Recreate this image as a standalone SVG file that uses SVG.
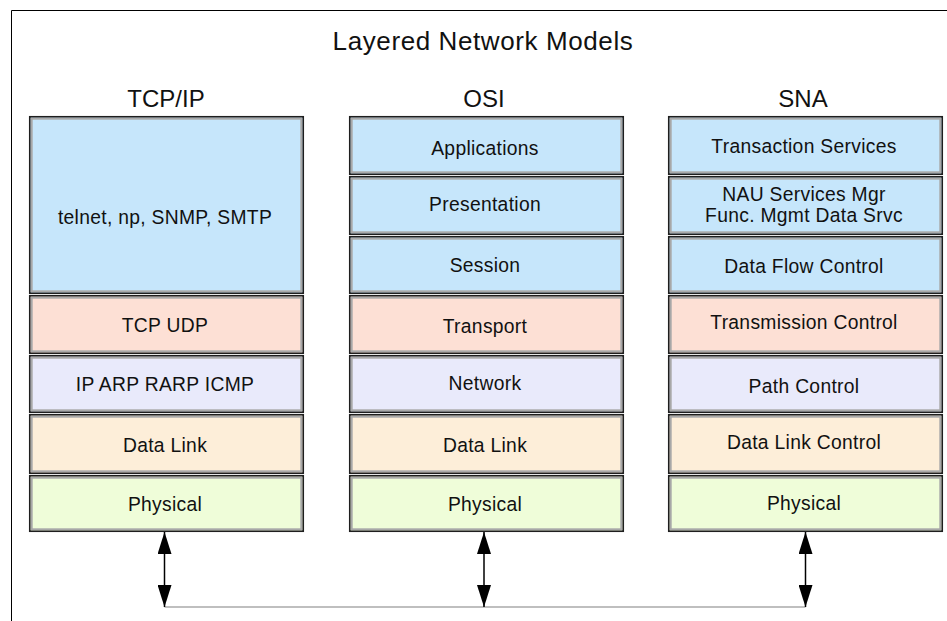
<svg xmlns="http://www.w3.org/2000/svg" width="947" height="621" viewBox="0 0 947 621">
<defs>
<style>
text{font-family:"Liberation Sans",Arial,sans-serif;fill:#111;text-anchor:middle}
.title{font-size:26px;letter-spacing:0.6px}
.hdr{font-size:24px}
.lbl{font-size:19.3px;letter-spacing:0.3px}
.o{stroke:#1e1e1e;stroke-width:1.7}
.i{fill:none;stroke:#a8a8a8;stroke-width:2}
.app{fill:#c6e6fb}
.trn{fill:#fde0d5}
.net{fill:#e9eafb}
.dl{fill:#fdeed9}
.phy{fill:#effdd9}
.v{stroke:#000;stroke-width:1.5;fill:none;marker-start:url(#ah);marker-end:url(#ah)}
.h{stroke:#808080;stroke-width:1.2;fill:none}
</style>
<marker id="ah" viewBox="0 0 22 14" refX="22" refY="7" markerWidth="22" markerHeight="14" markerUnits="userSpaceOnUse" orient="auto-start-reverse">
<path d="M0,0 L22,7 L0,14 z" fill="#000"/>
</marker>
</defs>
<rect width="947" height="621" fill="#fff"/>
<path d="M11.5,621 V10.5 H947" fill="none" stroke="#000" stroke-width="1"/>
<text class="title" x="483" y="49.5">Layered Network Models</text>
<text class="hdr" x="166" y="107">TCP/IP</text>
<text class="hdr" x="484" y="107">OSI</text>
<text class="hdr" x="803" y="107">SNA</text>

<g id="tcp-app">
<rect class="o app" x="29.8" y="116.8" width="273.4" height="176.4"/>
<rect class="i" x="31.7" y="118.7" width="269.6" height="172.6"/>
<text class="lbl" x="165" y="224">telnet, np, SNMP, SMTP</text>
</g>
<g id="tcp-transport">
<rect class="o trn" x="29.8" y="295.8" width="273.4" height="57.4"/>
<rect class="i" x="31.7" y="297.7" width="269.6" height="53.6"/>
<text class="lbl" x="165" y="332">TCP UDP</text>
</g>
<g id="tcp-network">
<rect class="o net" x="29.8" y="355.8" width="273.4" height="56.4"/>
<rect class="i" x="31.7" y="357.7" width="269.6" height="52.6"/>
<text class="lbl" x="165" y="391">IP ARP RARP ICMP</text>
</g>
<g id="tcp-datalink">
<rect class="o dl" x="29.8" y="414.8" width="273.4" height="58.4"/>
<rect class="i" x="31.7" y="416.7" width="269.6" height="54.6"/>
<text class="lbl" x="165" y="451.5">Data Link</text>
</g>
<g id="tcp-physical">
<rect class="o phy" x="29.8" y="475.8" width="273.4" height="55.4"/>
<rect class="i" x="31.7" y="477.7" width="269.6" height="51.6"/>
<text class="lbl" x="165" y="510.5">Physical</text>
</g>

<g id="osi-applications">
<rect class="o app" x="349.8" y="116.8" width="273.4" height="57.4"/>
<rect class="i" x="351.7" y="118.7" width="269.6" height="53.6"/>
<text class="lbl" x="485" y="155">Applications</text>
</g>
<g id="osi-presentation">
<rect class="o app" x="349.8" y="176.8" width="273.4" height="57.4"/>
<rect class="i" x="351.7" y="178.7" width="269.6" height="53.6"/>
<text class="lbl" x="485" y="211">Presentation</text>
</g>
<g id="osi-session">
<rect class="o app" x="349.8" y="236.8" width="273.4" height="56.4"/>
<rect class="i" x="351.7" y="238.7" width="269.6" height="52.6"/>
<text class="lbl" x="485" y="271.5">Session</text>
</g>
<g id="osi-transport">
<rect class="o trn" x="349.8" y="295.8" width="273.4" height="57.4"/>
<rect class="i" x="351.7" y="297.7" width="269.6" height="53.6"/>
<text class="lbl" x="485" y="333">Transport</text>
</g>
<g id="osi-network">
<rect class="o net" x="349.8" y="355.8" width="273.4" height="56.4"/>
<rect class="i" x="351.7" y="357.7" width="269.6" height="52.6"/>
<text class="lbl" x="485" y="390">Network</text>
</g>
<g id="osi-datalink">
<rect class="o dl" x="349.8" y="414.8" width="273.4" height="58.4"/>
<rect class="i" x="351.7" y="416.7" width="269.6" height="54.6"/>
<text class="lbl" x="485" y="451.5">Data Link</text>
</g>
<g id="osi-physical">
<rect class="o phy" x="349.8" y="475.8" width="273.4" height="55.4"/>
<rect class="i" x="351.7" y="477.7" width="269.6" height="51.6"/>
<text class="lbl" x="485" y="510.5">Physical</text>
</g>

<g id="sna-transaction">
<rect class="o app" x="668.8" y="116.8" width="273.4" height="57.4"/>
<rect class="i" x="670.7" y="118.7" width="269.6" height="53.6"/>
<text class="lbl" x="804" y="153">Transaction Services</text>
</g>
<g id="sna-nau">
<rect class="o app" x="668.8" y="176.8" width="273.4" height="57.4"/>
<rect class="i" x="670.7" y="178.7" width="269.6" height="53.6"/>
<text class="lbl" x="804" y="201">NAU Services Mgr</text>
<text class="lbl" x="804" y="222.3">Func. Mgmt Data Srvc</text>
</g>
<g id="sna-dataflow">
<rect class="o app" x="668.8" y="236.8" width="273.4" height="56.4"/>
<rect class="i" x="670.7" y="238.7" width="269.6" height="52.6"/>
<text class="lbl" x="804" y="273">Data Flow Control</text>
</g>
<g id="sna-transmission">
<rect class="o trn" x="668.8" y="295.8" width="273.4" height="57.4"/>
<rect class="i" x="670.7" y="297.7" width="269.6" height="53.6"/>
<text class="lbl" x="804" y="328.5">Transmission Control</text>
</g>
<g id="sna-path">
<rect class="o net" x="668.8" y="355.8" width="273.4" height="56.4"/>
<rect class="i" x="670.7" y="357.7" width="269.6" height="52.6"/>
<text class="lbl" x="804" y="392.5">Path Control</text>
</g>
<g id="sna-datalink">
<rect class="o dl" x="668.8" y="414.8" width="273.4" height="58.4"/>
<rect class="i" x="670.7" y="416.7" width="269.6" height="54.6"/>
<text class="lbl" x="804" y="448.5">Data Link Control</text>
</g>
<g id="sna-physical">
<rect class="o phy" x="668.8" y="475.8" width="273.4" height="55.4"/>
<rect class="i" x="670.7" y="477.7" width="269.6" height="51.6"/>
<text class="lbl" x="804" y="510">Physical</text>
</g>

<g id="connectors">
<path class="h" d="M164.5,607 H805.5"/>
<path class="v" d="M164.5,532 V607"/>
<path class="v" d="M484,532 V607"/>
<path class="v" d="M805.5,532 V607"/>
</g>
</svg>
